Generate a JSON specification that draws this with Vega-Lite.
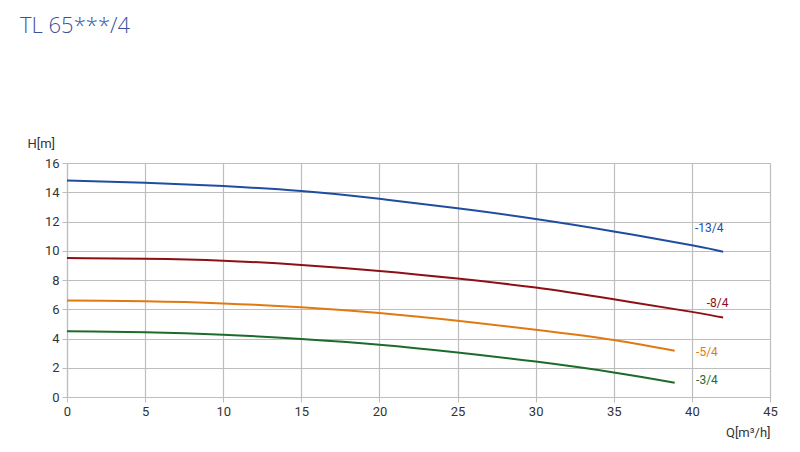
{
  "$schema": "https://vega.github.io/schema/vega-lite/v6.json",
  "width": 703,
  "height": 234,
  "autosize": {"type": "none"},
  "padding": {"left": 67, "top": 163, "right": 30, "bottom": 55},
  "background": "white",
  "title": {
    "text": "TL 65***/4",
    "anchor": "start",
    "frame": "group",
    "font": "Open Sans",
    "fontSize": 22,
    "fontWeight": 300,
    "color": "#3d4f9c",
    "dx": -47,
    "dy": -95
  },
  "datasets": {
    "curves": [
      {"s": "-13/4", "q": 0, "h": 14.8},
      {"s": "-13/4", "q": 5, "h": 14.65},
      {"s": "-13/4", "q": 10, "h": 14.42},
      {"s": "-13/4", "q": 15, "h": 14.08},
      {"s": "-13/4", "q": 20, "h": 13.55},
      {"s": "-13/4", "q": 25, "h": 12.9},
      {"s": "-13/4", "q": 30, "h": 12.17},
      {"s": "-13/4", "q": 35, "h": 11.32},
      {"s": "-13/4", "q": 40, "h": 10.37},
      {"s": "-13/4", "q": 42, "h": 9.93},
      {"s": "-8/4", "q": 0, "h": 9.5},
      {"s": "-8/4", "q": 5, "h": 9.45},
      {"s": "-8/4", "q": 10, "h": 9.32},
      {"s": "-8/4", "q": 15, "h": 9.03},
      {"s": "-8/4", "q": 20, "h": 8.62},
      {"s": "-8/4", "q": 25, "h": 8.1},
      {"s": "-8/4", "q": 30, "h": 7.48},
      {"s": "-8/4", "q": 35, "h": 6.68},
      {"s": "-8/4", "q": 40, "h": 5.82},
      {"s": "-8/4", "q": 42, "h": 5.43},
      {"s": "-5/4", "q": 0, "h": 6.6},
      {"s": "-5/4", "q": 5, "h": 6.54},
      {"s": "-5/4", "q": 10, "h": 6.4},
      {"s": "-5/4", "q": 15, "h": 6.14},
      {"s": "-5/4", "q": 20, "h": 5.74},
      {"s": "-5/4", "q": 25, "h": 5.21},
      {"s": "-5/4", "q": 30, "h": 4.6},
      {"s": "-5/4", "q": 35, "h": 3.9},
      {"s": "-5/4", "q": 38.9, "h": 3.16},
      {"s": "-3/4", "q": 0, "h": 4.5},
      {"s": "-3/4", "q": 5, "h": 4.43},
      {"s": "-3/4", "q": 10, "h": 4.26},
      {"s": "-3/4", "q": 15, "h": 3.97},
      {"s": "-3/4", "q": 20, "h": 3.58},
      {"s": "-3/4", "q": 25, "h": 3.05},
      {"s": "-3/4", "q": 30, "h": 2.42},
      {"s": "-3/4", "q": 35, "h": 1.68},
      {"s": "-3/4", "q": 38.9, "h": 0.98}
    ],
    "labels": [
      {"s": "-13/4", "q": 40.2, "h": 11.55},
      {"s": "-8/4", "q": 40.95, "h": 6.45},
      {"s": "-5/4", "q": 40.27, "h": 3.07},
      {"s": "-3/4", "q": 40.27, "h": 1.18}
    ]
  },
  "encoding": {
    "x": {
      "field": "q",
      "type": "quantitative",
      "scale": {"domain": [0, 45], "nice": false},
      "axis": {
        "values": [0, 5, 10, 15, 20, 25, 30, 35, 40, 45],
        "labelFlush": false,
        "title": "Q[m³/h]",
        "titleAngle": 0,
        "titleX": 703,
        "titleY": 35,
        "titleAlign": "right",
        "titleBaseline": "middle"
      }
    },
    "y": {
      "field": "h",
      "type": "quantitative",
      "scale": {"domain": [0, 16], "nice": false},
      "axis": {
        "values": [0, 2, 4, 6, 8, 10, 12, 14, 16],
        "labelFlush": false,
        "title": "H[m]",
        "titleAngle": 0,
        "titleX": -40,
        "titleY": -20,
        "titleAlign": "left",
        "titleBaseline": "middle"
      }
    },
    "color": {
      "field": "s",
      "type": "nominal",
      "scale": {
        "domain": ["-13/4", "-8/4", "-5/4", "-3/4"],
        "range": ["#1f4ea0", "#8e1016", "#e07a10", "#1d6b2b"]
      },
      "legend": null
    }
  },
  "layer": [
    {
      "data": {"name": "curves"},
      "mark": {"type": "line", "interpolate": "natural", "strokeWidth": 2}
    },
    {
      "data": {"name": "labels"},
      "mark": {"type": "text", "align": "left", "baseline": "middle", "font": "Roboto", "fontSize": 12},
      "encoding": {"text": {"field": "s", "type": "nominal"}}
    }
  ],
  "config": {
    "view": {"stroke": null},
    "axis": {
      "labelFont": "Roboto",
      "labelFontSize": 13,
      "labelColor": "#333333",
      "titleFont": "Roboto",
      "titleFontSize": 13,
      "titleFontWeight": 400,
      "titleColor": "#333333",
      "gridColor": "#bdbdbd",
      "gridWidth": 1.2,
      "domainColor": "#bdbdbd",
      "domainWidth": 1.2,
      "tickColor": "#bdbdbd",
      "tickSize": 5,
      "labelPadding": 3
    }
  }
}
